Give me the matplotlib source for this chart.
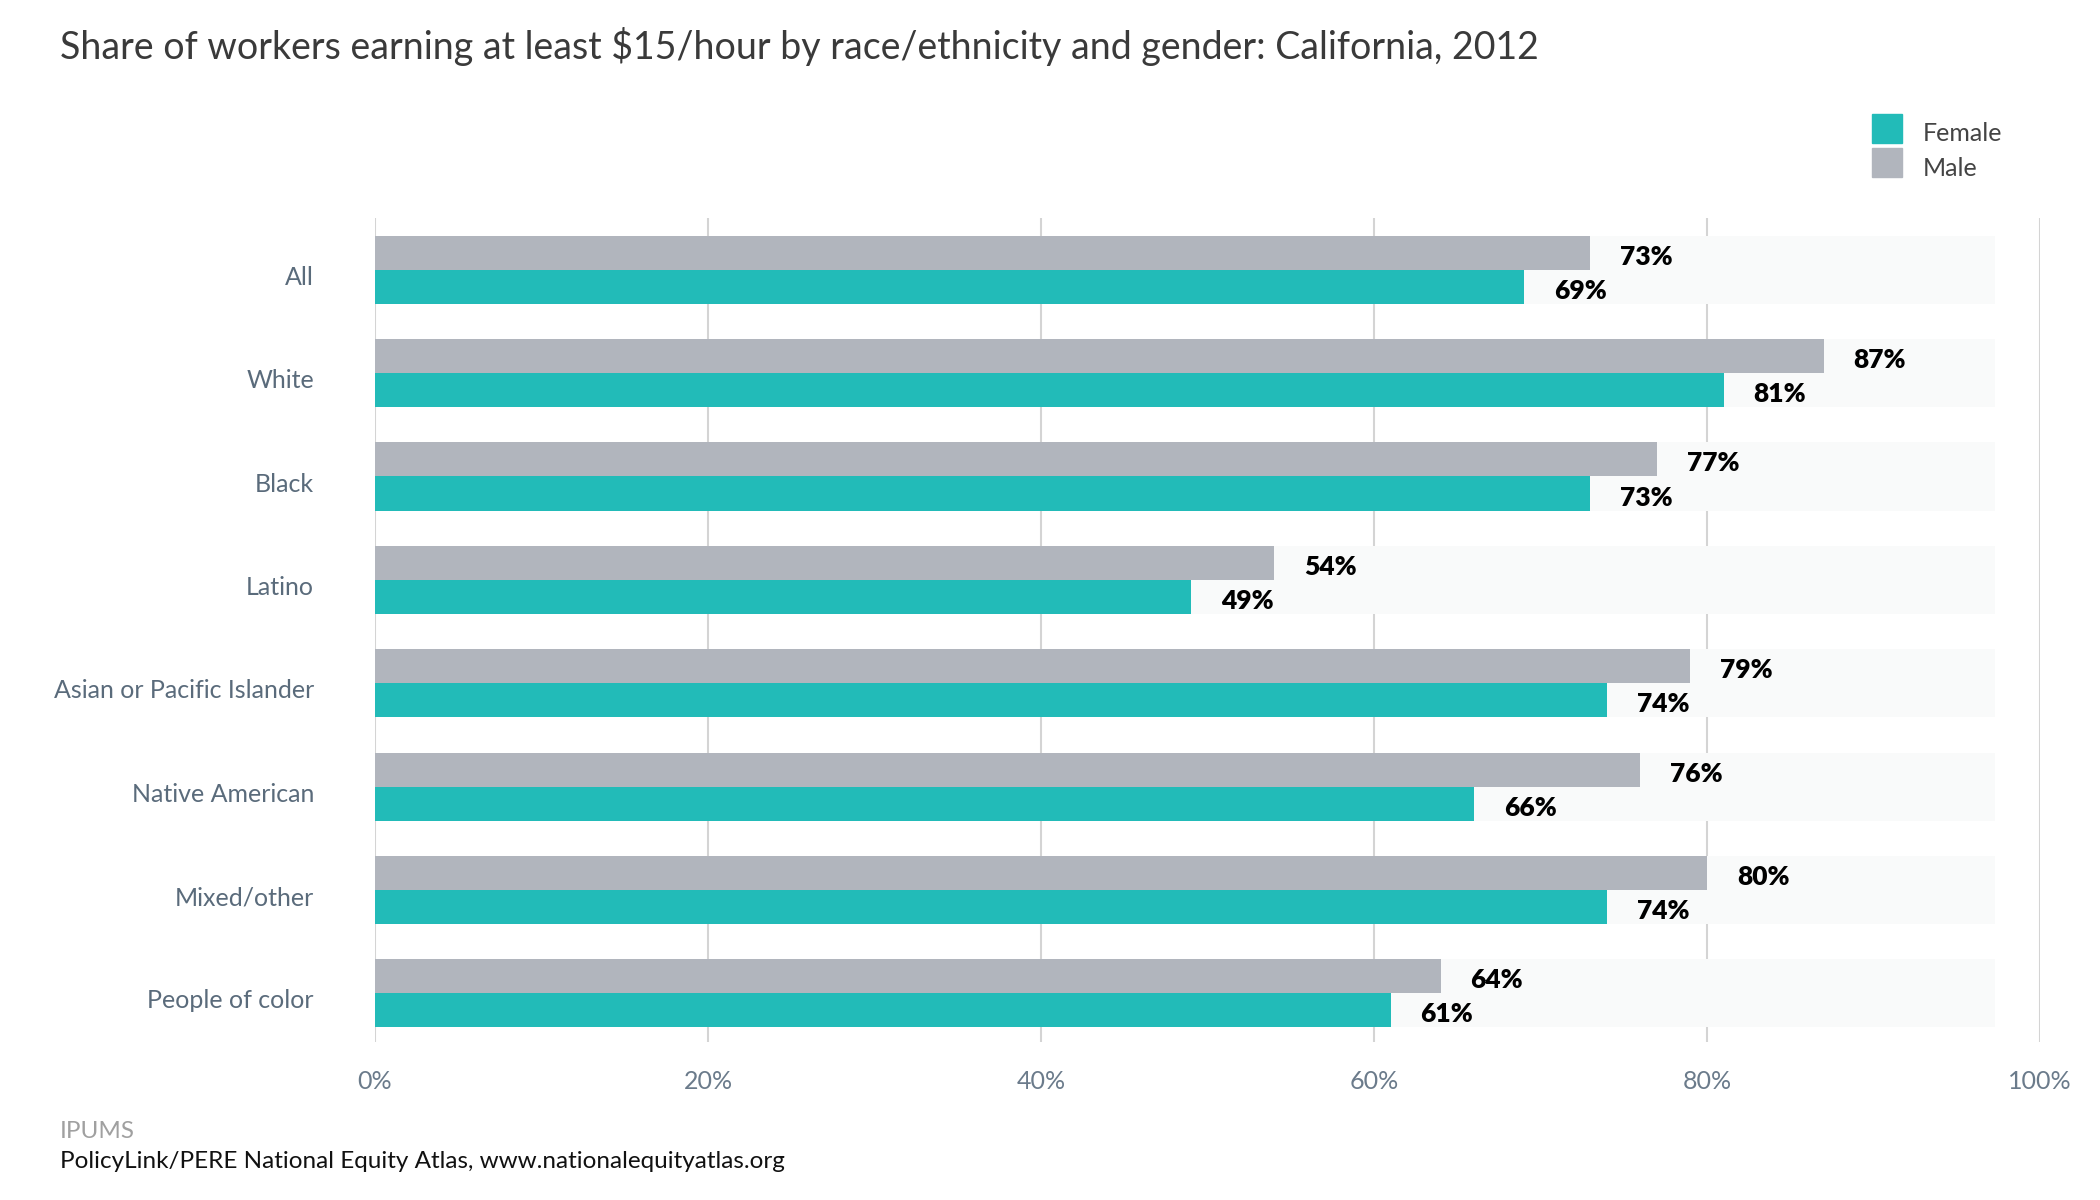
import matplotlib.pyplot as plt
import matplotlib.transforms as mtransforms

plt.rcParams['font.family'] = ['Lato', 'DejaVu Sans']

# data
groups = ['All', 'White', 'Black', 'Latino', 'Asian or Pacific Islander',
          'Native American', 'Mixed/other', 'People of color']
male = [73, 87, 77, 54, 79, 76, 80, 64]
female = [69, 81, 73, 49, 74, 66, 74, 61]
ticks = [0, 20, 40, 60, 80, 100]

teal = '#22bbb8'
grey = '#b1b5bd'
h = 0.33

fig = plt.figure(figsize=(21, 12), dpi=100)
ax = fig.add_axes([0.1786, 0.1317, 0.7928, 0.6866])

ys = list(range(len(groups)))
# faint background bands behind each pair of bars
ax.barh(ys, [97.3] * len(ys), height=2 * h, color='#f9fafa', zorder=1)
ax.barh([y - h / 2 for y in ys], male, height=h, color=grey, zorder=3)
ax.barh([y + h / 2 for y in ys], female, height=h, color=teal, zorder=3)

down = mtransforms.offset_copy(ax.transData, fig=fig, x=0, y=-4, units='dots')
for y, m, f in zip(ys, male, female):
    ax.text(m + 1.8, y - h / 2, f'{m}%', va='center', ha='left', transform=down,
            fontsize=19, fontweight='heavy', color='black', zorder=4)
    ax.text(f + 1.8, y + h / 2, f'{f}%', va='center', ha='left', transform=down,
            fontsize=19, fontweight='heavy', color='black', zorder=4)

ax.set_xlim(0, 100)
ax.set_ylim(7.47, -0.5)
ax.set_xticks(ticks)
ax.set_xticklabels([f'{t}%' for t in ticks], color='#6b7b8b', fontsize=18)
ax.set_yticks(ys)
ax.set_yticklabels(groups, color='#5a6b7b', fontsize=18)
ax.tick_params(axis='x', length=0, pad=20)
ax.tick_params(axis='y', length=0, pad=44)
shift = mtransforms.ScaledTranslation(0, -4 / 72, fig.dpi_scale_trans)
for lab in ax.get_yticklabels():
    lab.set_transform(lab.get_transform() + shift)
ax.xaxis.grid(True, color='#d4d4d4', linewidth=1.5, zorder=0)
ax.set_axisbelow(True)
for s in ax.spines.values():
    s.set_visible(False)

fig.text(0.0286, 0.961, 'Share of workers earning at least $15/hour by race/ethnicity and gender: California, 2012',
         fontsize=27, color='#3a3a3a', va='center', ha='left')

# legend
fig.patches.append(plt.Rectangle((0.8914, 0.8808), 0.0143, 0.0242, color=teal, transform=fig.transFigure))
fig.patches.append(plt.Rectangle((0.8914, 0.8525), 0.0143, 0.0242, color=grey, transform=fig.transFigure))
fig.text(0.9155, 0.889, 'Female', fontsize=18, color='#444444', va='center')
fig.text(0.9155, 0.860, 'Male', fontsize=18, color='#444444', va='center')

fig.text(0.0286, 0.0575, 'IPUMS', fontsize=17.5, color='#a0a0a0', va='center')
fig.text(0.0286, 0.0317, 'PolicyLink/PERE National Equity Atlas, www.nationalequityatlas.org',
         fontsize=17.5, color='#111111', va='center')

fig.savefig('out.png', dpi=100, facecolor='white')
